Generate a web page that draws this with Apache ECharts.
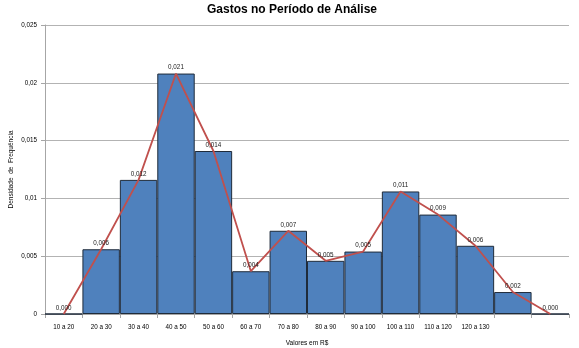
<!DOCTYPE html>
<html>
<head>
<meta charset="utf-8">
<script src="https://cdn.jsdelivr.net/npm/echarts@6/dist/echarts.min.js"></script>
<style>html,body{margin:0;padding:0;background:#fff}#c{width:579px;height:348px}</style>
</head>
<body>
<div id="c"></div>
<script>
const categories = ['10 a 20','20 a 30','30 a 40','40 a 50','50 a 60','60 a 70','70 a 80','80 a 90','90 a 100','100 a 110','110 a 120','120 a 130','',''];
const densities = [0, 0.0056, 0.0116, 0.0208, 0.0141, 0.0037, 0.0072, 0.0046, 0.0054, 0.0106, 0.0086, 0.0059, 0.0019, 0];
const yTicks = [0, 0.005, 0.01, 0.015, 0.02, 0.025];

const fmtAxis = v => String(+v.toFixed(3)).replace('.', ',');
const fmtLabel = v => v.toFixed(3).replace('.', ',');
const FONT = '"Liberation Sans", sans-serif';

const chart = echarts.init(document.getElementById('c'), null, {renderer: 'canvas'});
chart.setOption({
  animation: false,
  backgroundColor: '#fff',
  title: {
    text: 'Gastos no Período de Análise',
    left: 287, top: -1, textAlign: 'center',
    textStyle: {fontFamily: FONT, fontWeight: 'bold', fontSize: 12, color: '#000'}
  },
  grid: {left: 45, right: 10, top: 25, bottom: 34, containLabel: false, outerBoundsMode: 'none'},
  xAxis: {
    type: 'category',
    data: categories,
    boundaryGap: true,
    name: 'Valores em R$',
    nameLocation: 'middle',
    nameGap: 26,
    nameMoveOverlap: false,
    nameTextStyle: {fontFamily: FONT, fontSize: 6.5, color: '#000'},
    axisLine: {lineStyle: {color: '#A6A6A6', width: 1}},
    axisTick: {show: true, alignWithLabel: false, length: 4, lineStyle: {color: '#A6A6A6'}},
    axisLabel: {interval: 0, fontFamily: FONT, fontSize: 6.3, color: '#000', margin: 10}
  },
  yAxis: {
    type: 'value',
    min: 0, max: 0.025, interval: 0.005,
    name: 'Densidade  de  Frequência',
    nameLocation: 'middle',
    nameGap: 30,
    nameMoveOverlap: false,
    nameRotate: 90,
    nameTextStyle: {fontFamily: FONT, fontSize: 6.5, color: '#000'},
    axisLine: {show: true, lineStyle: {color: '#A6A6A6', width: 1}},
    axisTick: {show: true, length: 4, lineStyle: {color: '#A6A6A6'}},
    axisLabel: {fontFamily: FONT, fontSize: 6.3, color: '#000', margin: 8, formatter: fmtAxis},
    splitLine: {lineStyle: {color: '#B3B3B3', width: 1}}
  },
  series: [
    {
      type: 'bar',
      data: densities,
      barCategoryGap: '0%',
      itemStyle: {color: '#4F81BD', borderColor: '#1F2B3A', borderWidth: 1},
      z: 2
    },
    {
      type: 'line',
      data: densities,
      symbol: 'circle',
      symbolSize: 2,
      showSymbol: true,
      itemStyle: {color: 'rgba(0,0,0,0)', borderWidth: 0},
      lineStyle: {color: '#C0504D', width: 1.8},
      label: {
        show: true, position: 'top', distance: 2,
        fontFamily: FONT, fontSize: 6.3, color: '#222', opacity: 1,
        formatter: p => fmtLabel(p.value)
      },
      z: 3
    }
  ]
});
</script>
</body>
</html>
